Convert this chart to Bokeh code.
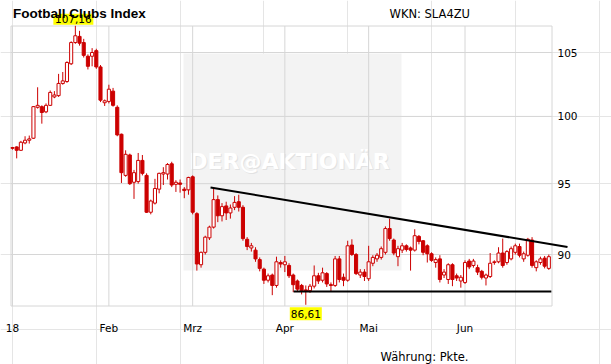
import math
from bokeh.plotting import figure
from bokeh.models import Range1d, ColumnDataSource
from bokeh.core.properties import value
from bokeh.embed import file_html
from bokeh.resources import INLINE

# ---------------- data (daily candles, Jan - Jun 2018) ----------------
opens = [97.65, 97.7, 97.45, 98.0, 98.2, 98.35, 100.7, 100.75, 100.35, 100.85,
         101.5, 101.6, 102.55, 102.7, 104.1, 105.8, 106.3, 105.8, 104.7, 104.7,
         105.15, 103.85, 101.05,
         101.15, 101.95, 100.7, 98.65, 95.6, 97.1, 95.1, 95.15, 96.7, 95.6,
         92.95, 93.6, 94.6, 95.7, 95.7, 96.45, 94.95, 95.05, 94.6, 94.55,
         95.5, 92.85, 89.3, 90.15, 91.15, 91.9, 93.85, 92.7, 93.4, 92.9,
         93.3, 93.7, 93.3, 91.05, 90.45, 90.3, 89.65, 89.0, 88.25, 88.6,
         87.9, 89.45,
         89.3, 89.25, 88.6, 88.2, 87.9, 87.6, 87.55, 87.85, 88.55, 88.25,
         88.7, 87.95, 87.9, 89.7, 88.45, 88.25, 90.65, 90.0, 88.6, 88.8,
         88.35, 89.4, 89.7, 89.8, 90.15, 91.8, 91.0, 89.85, 90.3, 90.6,
         90.45, 90.3, 91.25, 90.95, 90.6, 90.05, 89.45, 89.7, 88.6, 88.3,
         89.3, 88.55, 88.2,
         88.1, 89.55, 89.25, 89.1, 88.85, 88.4, 88.5, 89.45, 89.5, 90.1,
         89.45, 89.7, 90.15, 90.55, 89.7, 89.95, 91.0, 89.1, 89.45, 89.75,
         89.05]
highs = [97.7, 97.75, 98.15, 98.5, 98.55, 100.8, 102.25, 100.85, 101.0, 102.0,
         101.95, 103.3, 103.45, 104.3, 105.9, 107.16, 106.75, 106.1, 104.85, 105.35,
         105.3, 104.0, 101.3,
         102.45, 102.2, 100.85, 98.7, 97.45, 97.2, 96.0, 97.25, 97.1, 95.75,
         93.85, 95.35, 95.8, 96.2, 96.5, 96.6, 95.25, 95.3, 94.75, 95.5,
         95.6, 92.95, 90.2, 91.3, 92.0, 94.7, 94.15, 93.6, 93.7, 93.5,
         94.1, 94.2, 93.45, 91.2, 90.8, 90.5, 89.8, 89.1, 88.7, 88.7,
         89.85, 89.6,
         89.9, 89.4, 88.7, 88.3, 88.0, 87.9, 88.0, 89.25, 88.75, 89.1,
         88.8, 88.1, 89.9, 89.9, 88.7, 90.95, 91.05, 90.1, 89.0, 89.0,
         90.6, 89.95, 90.1, 90.55, 91.95, 92.5, 91.1, 90.6, 90.8, 90.7,
         90.55, 91.75, 91.35, 91.0, 90.7, 90.15, 89.8, 89.95, 89.0, 89.4,
         89.4, 88.7, 88.6,
         89.6, 89.7, 89.7, 89.3, 88.95, 88.7, 90.1, 89.6, 90.5, 91.1,
         90.3, 90.55, 90.75, 90.75, 90.2, 91.15, 91.2, 89.6, 89.85, 89.9,
         90.0]
lows = [97.5, 96.85, 97.4, 97.9, 97.95, 98.3, 100.6, 99.45, 100.25, 100.8,
        101.4, 101.5, 102.45, 102.6, 104.0, 105.7, 105.55, 104.6, 103.65, 103.9,
        103.7, 101.1, 100.8,
        101.0, 100.75, 98.5, 95.05, 95.5, 94.9, 93.9, 95.0, 95.6, 92.9,
        92.8, 93.5, 94.3, 94.9, 95.3, 94.75, 94.4, 94.35, 93.95, 94.2,
        92.8, 88.9, 89.1, 90.0, 91.0, 91.8, 92.25, 92.3, 92.4, 92.5,
        93.1, 93.0, 90.95, 90.3, 90.2, 89.5, 88.85, 88.0, 88.1, 87.25,
        87.75, 89.1,
        88.8, 88.4, 87.45, 87.5, 87.3, 86.61, 87.4, 87.7, 88.0, 88.1,
        87.8, 87.5, 87.8, 88.1, 87.85, 88.15, 89.9, 88.6, 88.4, 88.2,
        88.2, 89.2, 89.5, 89.65, 90.0, 90.95, 89.95, 89.2, 90.1, 90.2,
        88.9, 90.2, 90.7, 89.95, 89.45, 89.5, 89.1, 88.1, 88.4, 88.0,
        87.85, 88.2, 87.75,
        88.0, 89.0, 89.1, 88.6, 88.3, 87.9, 88.4, 89.3, 89.4, 89.1,
        89.3, 89.6, 90.0, 89.8, 89.5, 89.85, 89.1, 88.85, 89.3, 89.05,
        88.95]
closes = [97.6, 97.45, 98.05, 98.2, 98.3, 100.75, 100.85, 100.3, 100.85, 101.85,
          101.65, 102.55, 102.75, 104.2, 105.8, 106.35, 105.75, 104.77, 103.9, 105.0,
          103.85, 101.25, 101.2,
          102.1, 100.85, 98.6, 95.8, 97.15, 95.0, 95.8, 96.7, 95.75, 92.95,
          93.75, 94.65, 95.75, 95.8, 96.4, 94.9, 95.1, 94.95, 94.5, 95.45,
          92.95, 89.35, 90.15, 91.2, 91.9, 93.85, 92.7, 93.35, 92.9, 93.25,
          93.65, 93.3, 91.1, 90.55, 90.6, 89.7, 89.05, 88.25, 88.55, 87.9,
          89.5, 89.35,
          89.5, 88.55, 87.95, 87.65, 87.55, 87.5, 87.85, 88.55, 88.2, 88.75,
          88.0, 87.9, 89.7, 88.3, 88.25, 90.6, 90.0, 88.7, 88.8, 88.5,
          89.5, 89.8, 89.95, 90.4, 91.8, 91.1, 90.1, 90.4, 90.6, 90.35,
          90.3, 91.3, 90.9, 90.15, 90.05, 89.6, 89.65, 88.3, 88.8, 89.3,
          88.3, 88.4, 88.45,
          89.45, 89.15, 89.55, 88.8, 88.45, 88.6, 89.4, 89.5, 90.1, 89.25,
          90.2, 90.4, 90.6, 89.95, 90.05, 91.05, 89.25, 89.5, 89.7, 89.2,
          89.85]

month_ticks = [0, 23, 43, 65, 85, 108]
month_labels = ["18", "Feb", "Mrz", "Apr", "Mai", "Jun"]
price_ticks = [90, 95, 100, 105]

high_text = "107,16"
low_text = "86,61"

resistance_x = [47.26, 132.46]
resistance_y = [94.72, 90.52]
support_x = [67.1, 128.6]
support_y = [87.5, 87.5]

title_text = "Football Clubs Index"
wkn_text = "WKN: SLA4ZU"
currency_text = "Währung: Pkte."
watermark_text = "DER@AKTIONÄR"

# ---------------- layout helpers (canvas pixels <-> data) ----------------
W, H = 611, 364
SX, X0 = 4.19, 12.0          # px per trading day, px of first candle
PPL, Y90 = 1310.4, 254.0     # px per log unit, px of value 90


def X(px):
    return (px - X0) / SX


def Y(py):
    return 90.0 * math.exp((Y90 - py) / PPL)


def PX(i):
    return X0 + SX * i


def PY(v):
    return Y90 - PPL * math.log(v / 90.0)


FL, FR, FT, FB = 10.5, 551.5, 25.5, 305.5   # plot frame (px)

RED = "#cc0000"
GRID = "#d6d6d6"
FONT = "DejaVu Sans"

p = figure(width=W, height=H, output_backend="svg", toolbar_location=None,
           y_axis_type="log", x_axis_location=None, y_axis_location=None,
           x_range=Range1d(X(0), X(W)), y_range=Range1d(Y(H), Y(0)),
           min_border=0)
p.min_border_left = p.min_border_right = p.min_border_top = p.min_border_bottom = 0
p.outline_line_color = None
p.background_fill_color = "white"
p.border_fill_color = "white"

# watermark
p.quad(left=[X(183)], right=[X(401)], bottom=[Y(270)], top=[Y(53)],
       fill_color="#f3f3f3", line_color=None)
p.text(x=[X(290)], y=[Y(162)], text=[watermark_text], text_font=value(FONT),
       text_font_style="bold", text_font_size="22px", text_color="#e2e2e2",
       text_align="center", text_baseline="middle")
p.text(x=[X(289)], y=[Y(161)], text=[watermark_text], text_font=value(FONT),
       text_font_style="bold", text_font_size="22px", text_color="#ffffff",
       text_align="center", text_baseline="middle")

# grid + frame
p.segment(x0=month_ticks, x1=month_ticks, y0=[Y(FB)] * len(month_ticks),
          y1=[Y(FT)] * len(month_ticks), line_color=GRID, line_width=1)
p.segment(x0=[X(FL)] * len(price_ticks), x1=[X(FR)] * len(price_ticks),
          y0=price_ticks, y1=price_ticks, line_color=GRID, line_width=1)
p.line([X(FL), X(FR), X(FR), X(FL), X(FL)], [Y(FT), Y(FT), Y(FB), Y(FB), Y(FT)],
       line_color=GRID, line_width=1)

# candles
idx = list(range(len(opens)))
inc = [c >= o for o, c in zip(opens, closes)]


def subset(mask):
    return ColumnDataSource(dict(
        x=[i for i, m in zip(idx, mask) if m],
        top=[max(o, c) for o, c, m in zip(opens, closes, mask) if m],
        bottom=[min(o, c) for o, c, m in zip(opens, closes, mask) if m],
    ))


p.segment(x0=idx, y0=lows, x1=idx, y1=highs, line_color=RED, line_width=1)
p.vbar(x="x", width=0.74, top="top", bottom="bottom", source=subset(inc),
       fill_color="white", line_color=RED, line_width=1)
p.vbar(x="x", width=0.74, top="top", bottom="bottom",
       source=subset([not v for v in inc]),
       fill_color=RED, line_color=RED, line_width=1)

# trend lines
p.line(support_x, support_y, line_color="black", line_width=2)
p.line(resistance_x, resistance_y, line_color="black", line_width=2)

# tick labels
p.text(x=[X(557)] * len(price_ticks), y=price_ticks,
       text=[str(t) for t in price_ticks], text_font=value(FONT),
       text_font_size="10.5px", text_color="black",
       text_align="left", text_baseline="middle")
p.text(x=month_ticks, y=[Y(327.5)] * len(month_ticks), text=month_labels,
       text_font=value(FONT), text_font_size="10.5px", text_color="black",
       text_align="center", text_baseline="middle")

# extreme value labels
hi_i = highs.index(max(highs))
lo_i = lows.index(min(lows))
hx, hy = X(PX(hi_i) - 2), Y(PY(highs[hi_i]) - 6.5)
lx, ly = X(PX(lo_i)), Y(PY(lows[lo_i]) + 9)
p.rect(x=[hx, lx], y=[hy, ly], width=[40, 32], height=[11, 13],
       width_units="screen", height_units="screen",
       fill_color="#ffff00", line_color=None)
p.text(x=[hx, lx], y=[hy, ly], text=[high_text, low_text], text_font=value(FONT),
       text_font_size="10.5px", text_color="black",
       text_align="center", text_baseline="middle")

# header / footer texts
p.text(x=[X(12.5)], y=[Y(12.5)], text=[title_text],
       text_font=value("Liberation Sans"), text_font_style="bold",
       text_font_size="13.5px", text_color="black",
       text_align="left", text_baseline="middle")
p.text(x=[X(469.5)], y=[Y(13.5)], text=[wkn_text], text_font=value(FONT),
       text_font_size="11.5px", text_color="black",
       text_align="right", text_baseline="middle")
p.text(x=[X(468)], y=[Y(356)], text=[currency_text], text_font=value(FONT),
       text_font_size="11.5px", text_color="black",
       text_align="right", text_baseline="middle")

open("out.html", "w").write(file_html(p, INLINE))
